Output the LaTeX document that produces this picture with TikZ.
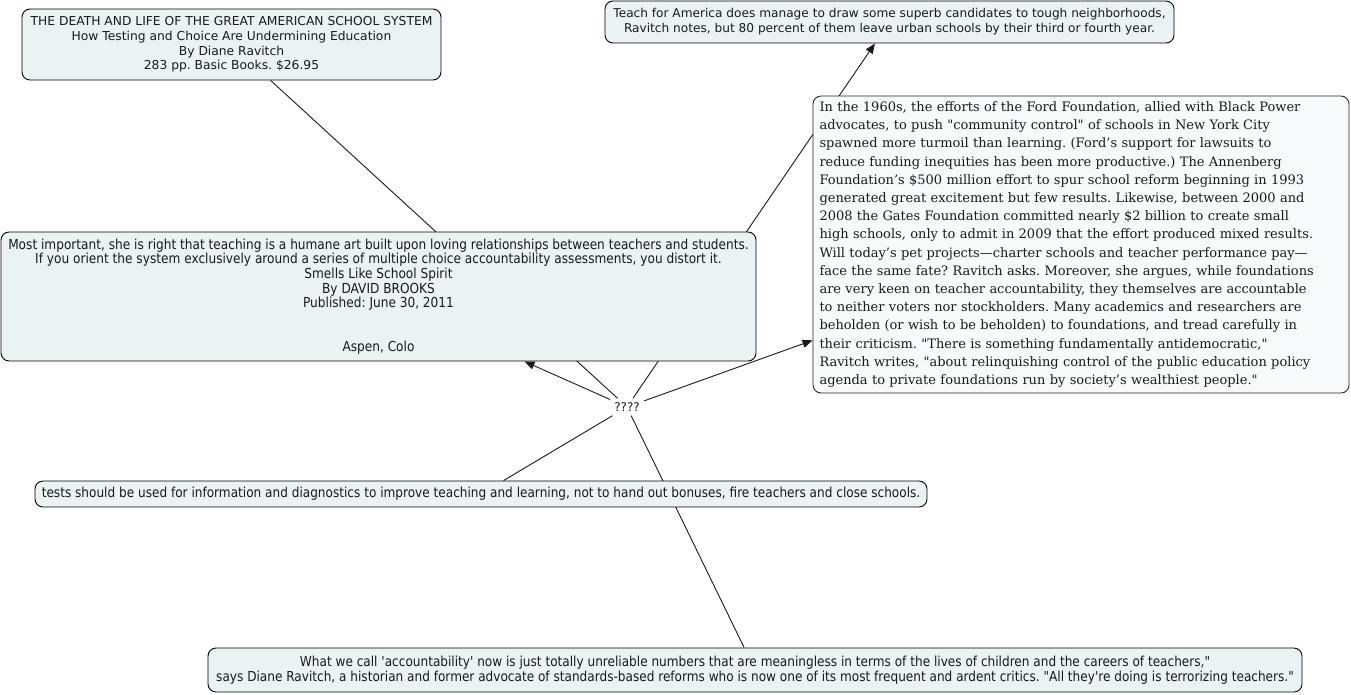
\documentclass[tikz,border=0pt]{standalone}
\usepackage{fontspec}
\usetikzlibrary{arrows.meta}
\newfontfamily\vfont{DejaVu Sans}
\newfontfamily\cfont[FakeStretch=0.88]{DejaVu Sans}
\newfontfamily\gfont{DejaVu Serif}
\definecolor{boxfill}{HTML}{EAF2F4}
\definecolor{fordfill}{HTML}{F8F9FA}
\definecolor{txt}{HTML}{1A1A1A}
\pgfdeclarelayer{background}
\pgfsetlayers{background,main}
\frenchspacing
\tikzset{
  concept/.style={draw=black, line width=0.9pt, rounded corners=8pt, fill=boxfill,
    inner sep=0pt, align=center, text=txt},
  link/.style={line width=0.9pt, draw=black!90},
  arr/.style={link, -{Triangle[length=10pt,width=8pt]}},
}
\begin{document}
\begin{tikzpicture}[x=1pt,y=-1pt]
\useasboundingbox (0,0) rectangle (1351,694);

\node[concept, minimum width=419pt, minimum height=71pt,
  font=\vfont\fontsize{12.3}{14.6}\selectfont] (book) at (231.5,44.5)
  {THE DEATH AND LIFE OF THE GREAT AMERICAN SCHOOL SYSTEM\\
   How Testing and Choice Are Undermining Education\\
   By Diane Ravitch\\
   283 pp. Basic Books. \$26.95};

\node[concept, minimum width=569pt, minimum height=42pt,
  font=\vfont\fontsize{12.15}{14.8}\selectfont] (teach) at (889.5,22)
  {Teach for America does manage to draw some superb candidates to tough neighborhoods,\\
   Ravitch notes, but 80 percent of them leave urban schools by their third or fourth year.};

\node[concept, fill=fordfill, draw=black!85, minimum width=536pt, minimum height=297pt,
  text width=523pt, align=left,
  font=\gfont\fontsize{13.0}{18.2}\selectfont] (ford) at (1081,244.5)
  {In the 1960s, the efforts of the Ford Foundation, allied with Black Power\\
   advocates, to push "community control" of schools in New York City\\
   spawned more turmoil than learning. (Ford’s support for lawsuits to\\
   reduce funding inequities has been more productive.) The Annenberg\\
   Foundation’s \$500 million effort to spur school reform beginning in 1993\\
   generated great excitement but few results. Likewise, between 2000 and\\
   2008 the Gates Foundation committed nearly \$2 billion to create small\\
   high schools, only to admit in 2009 that the effort produced mixed results.\\
   Will today’s pet projects—charter schools and teacher performance pay—\\
   face the same fate? Ravitch asks. Moreover, she argues, while foundations\\
   are very keen on teacher accountability, they themselves are accountable\\
   to neither voters nor stockholders. Many academics and researchers are\\
   beholden (or wish to be beholden) to foundations, and tread carefully in\\
   their criticism. "There is something fundamentally antidemocratic,"\\
   Ravitch writes, "about relinquishing control of the public education policy\\
   agenda to private foundations run by society’s wealthiest people."};

\node[concept, minimum width=755pt, minimum height=129pt,
  font=\cfont\fontsize{13.8}{14.6}\selectfont] (brooks) at (378.5,296.5)
  {Most important, she is right that teaching is a humane art built upon loving relationships between teachers and students.\\
   If you orient the system exclusively around a series of multiple choice accountability assessments, you distort it.\\
   Smells Like School Spirit\\
   By DAVID BROOKS\\
   Published: June 30, 2011\\
   \mbox{}\\
   \mbox{}\\
   Aspen, Colo};

\node[inner sep=4pt, text=txt, font=\vfont\fontsize{12}{14}\selectfont] (q) at (627,407) {????};

\node[concept, minimum width=892pt, minimum height=26pt,
  font=\cfont\fontsize{13.75}{15}\selectfont] (tests) at (481,494)
  {tests should be used for information and diagnostics to improve teaching and learning, not to hand out bonuses, fire teachers and close schools.};

\node[concept, minimum width=1094pt, minimum height=44pt,
  font=\cfont\fontsize{13.75}{15}\selectfont] (quote) at (755,670)
  {What we call 'accountability' now is just totally unreliable numbers that are meaningless in terms of the lives of children and the careers of teachers,"\\
   says Diane Ravitch, a historian and former advocate of standards-based reforms who is now one of its most frequent and ardent critics. "All they're doing is terrorizing teachers."};

\begin{pgfonlayer}{background}
\draw[link] (book) -- (q);
\draw[link] (tests) -- (q);
\draw[link] (quote) -- (q);
\draw[arr] (q) -- (brooks);
\draw[arr] (q) -- (ford);
\draw[arr] (q) -- (teach);
\end{pgfonlayer}
\end{tikzpicture}
\end{document}
